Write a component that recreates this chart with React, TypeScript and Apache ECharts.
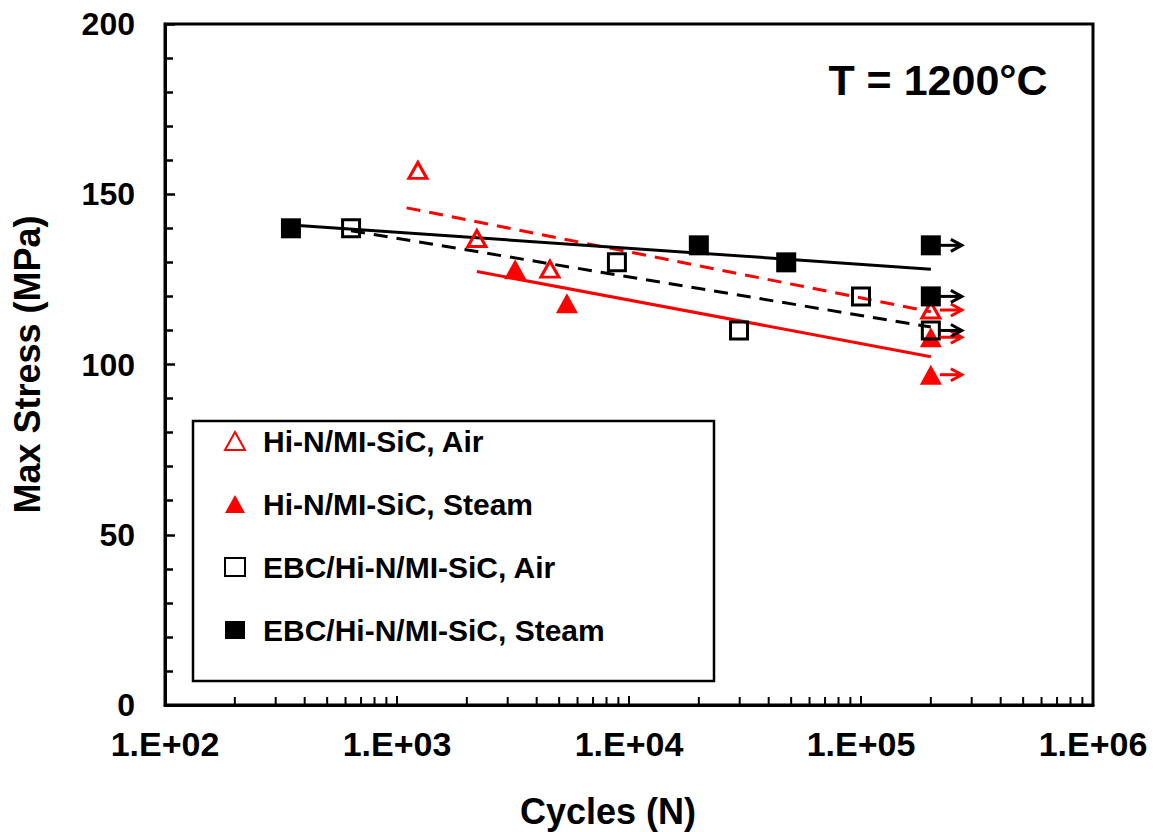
import React, { useEffect, useRef } from "react";
import * as echarts from "echarts";

const FONT = '"Liberation Sans", Arial, Helvetica, sans-serif';
const RED = "#ff0000";
const BLACK = "#000000";

// ---- data ----
const hiAirCycles = [1230, 2210, 4560, 200000];
const hiAirStress = [157, 137, 128, 116];
const hiAirRunout = [false, false, false, true];

const hiSteamCycles = [3230, 5400, 200000, 200000];
const hiSteamStress = [128, 118, 108, 97];
const hiSteamRunout = [false, false, true, true];

const ebcAirCycles = [634, 8870, 29800, 100000, 200000];
const ebcAirStress = [140, 130, 110, 120, 110];
const ebcAirRunout = [false, false, false, false, true];

const ebcSteamCycles = [349, 20000, 47600, 200000, 200000];
const ebcSteamStress = [140, 135, 130, 135, 120];
const ebcSteamRunout = [false, false, false, true, true];

// trend lines (end points)
const hiAirFitCycles = [1100, 200000];
const hiAirFitStress = [146, 115.5];
const hiSteamFitCycles = [2210, 200000];
const hiSteamFitStress = [127.3, 102.3];
const ebcAirFitCycles = [634, 200000];
const ebcAirFitStress = [139.3, 111];
const ebcSteamFitCycles = [349, 200000];
const ebcSteamFitStress = [141, 128];

const seriesNames = [
  "Hi-N/MI-SiC, Air",
  "Hi-N/MI-SiC, Steam",
  "EBC/Hi-N/MI-SiC, Air",
  "EBC/Hi-N/MI-SiC, Steam",
];
const xTickLabels = ["1.E+02", "1.E+03", "1.E+04", "1.E+05", "1.E+06"];
const xDecades = [100, 1000, 10000, 100000];
const xMinorMultipliers = [2, 3, 4, 5, 6, 7, 8, 9];
const titleText = "T = 1200°C";

const pairs = (xs: number[], ys: number[]) => xs.map((x, i) => [x, ys[i]]);
const runouts = (xs: number[], ys: number[], flags: boolean[], c: number) =>
  xs.map((x, i) => (flags[i] ? [x, ys[i], c] : null)).filter(Boolean) as number[][];

export default function App() {
  const ref = useRef<HTMLDivElement>(null);

  useEffect(() => {
    if (!ref.current) return;
    const chart = echarts.init(ref.current, undefined, { renderer: "svg" });

    const minorTicks: number[][] = [];
    xDecades.forEach((d) => xMinorMultipliers.forEach((m) => minorTicks.push([d * m, 0])));

    const arrows = [
      ...runouts(hiAirCycles, hiAirStress, hiAirRunout, 0),
      ...runouts(hiSteamCycles, hiSteamStress, hiSteamRunout, 0),
      ...runouts(ebcAirCycles, ebcAirStress, ebcAirRunout, 1),
      ...runouts(ebcSteamCycles, ebcSteamStress, ebcSteamRunout, 1),
    ];

    const fitLine = (xs: number[], ys: number[], color: string, dashed: boolean) => ({
      type: "line",
      data: pairs(xs, ys),
      symbol: "none",
      silent: true,
      lineStyle: { color, width: 3, type: dashed ? [14, 9] : "solid" },
      z: 2,
    });

    chart.setOption({
      animation: false,
      textStyle: { fontFamily: FONT },
      grid: {
        left: 165,
        right: 66,
        top: 24,
        bottom: 127,
        outerBoundsMode: "none",
        show: true,
        borderColor: BLACK,
        borderWidth: 3,
      },
      xAxis: {
        type: "log",
        logBase: 10,
        min: 100,
        max: 1000000,
        name: "Cycles (N)",
        nameLocation: "middle",
        nameGap: 82,
        nameTextStyle: {
          fontSize: 36,
          fontWeight: "bold",
          color: BLACK,
          fontFamily: FONT,
          padding: [6, 42, 0, 0],
        },
        axisLine: { lineStyle: { color: BLACK, width: 3 } },
        axisTick: { inside: true, length: 9, lineStyle: { color: BLACK, width: 2 } },
        axisLabel: {
          fontSize: 34,
          fontWeight: "bold",
          color: BLACK,
          fontFamily: FONT,
          margin: 22,
          formatter: (v: number) => xTickLabels[Math.round(Math.log10(v)) - 2] ?? "",
        },
        splitLine: { show: false },
      },
      yAxis: {
        type: "value",
        min: 0,
        max: 200,
        interval: 50,
        name: "Max Stress (MPa)",
        nameLocation: "middle",
        nameGap: 120,
        nameRotate: 90,
        nameTextStyle: { fontSize: 36, fontWeight: "bold", color: BLACK, fontFamily: FONT },
        axisLine: { show: true, lineStyle: { color: BLACK, width: 3 } },
        axisTick: { show: true, inside: true, length: 10, lineStyle: { color: BLACK, width: 2.5 } },
        minorTick: { show: true, splitNumber: 5, length: 8, lineStyle: { color: BLACK, width: 2.5 } },
        axisLabel: { fontSize: 32, fontWeight: "bold", color: BLACK, fontFamily: FONT, margin: 30 },
        splitLine: { show: false },
      },
      legend: {
        orient: "vertical",
        left: 219,
        top: 421,
        itemWidth: 20,
        itemHeight: 18,
        itemGap: 33,
        selectedMode: false,
        textStyle: {
          fontSize: 30,
          fontWeight: "bold",
          color: BLACK,
          fontFamily: FONT,
          lineHeight: 30,
          padding: [0, 0, 0, 13],
        },
        data: seriesNames,
      },
      graphic: [
        {
          type: "rect",
          shape: { x: 193, y: 421, width: 521, height: 260 },
          style: { fill: "none", stroke: BLACK, lineWidth: 2.5 },
          z: 1,
        },
        {
          type: "text",
          x: 938,
          y: 80,
          style: {
            text: titleText,
            fontSize: 43,
            fontWeight: "bold",
            fontFamily: FONT,
            fill: BLACK,
            textAlign: "center",
            textVerticalAlign: "middle",
          },
        },
      ],
      series: [
        {
          type: "custom",
          silent: true,
          clip: false,
          data: minorTicks,
          renderItem: (params: any, api: any) => {
            const p = api.coord([api.value(0), 0]);
            return {
              type: "line",
              shape: { x1: p[0], y1: p[1], x2: p[0], y2: p[1] - 8 },
              style: { stroke: BLACK, lineWidth: 2 },
            };
          },
          z: 3,
        },
        fitLine(hiAirFitCycles, hiAirFitStress, RED, true),
        fitLine(hiSteamFitCycles, hiSteamFitStress, RED, false),
        fitLine(ebcAirFitCycles, ebcAirFitStress, BLACK, true),
        fitLine(ebcSteamFitCycles, ebcSteamFitStress, BLACK, false),
        {
          name: seriesNames[0],
          type: "scatter",
          symbol: "triangle",
          symbolSize: [18, 16],
          data: pairs(hiAirCycles, hiAirStress),
          itemStyle: { color: "rgba(255,255,255,0)", borderColor: RED, borderWidth: 3, opacity: 1 },
          z: 4,
        },
        {
          name: seriesNames[1],
          type: "scatter",
          symbol: "triangle",
          symbolSize: [22, 20],
          data: pairs(hiSteamCycles, hiSteamStress),
          itemStyle: { color: RED, opacity: 1 },
          z: 4,
        },
        {
          name: seriesNames[2],
          type: "scatter",
          symbol: "rect",
          symbolSize: 17,
          data: pairs(ebcAirCycles, ebcAirStress),
          itemStyle: { color: "rgba(255,255,255,0)", borderColor: BLACK, borderWidth: 3, opacity: 1 },
          z: 5,
        },
        {
          name: seriesNames[3],
          type: "scatter",
          symbol: "rect",
          symbolSize: 20,
          data: pairs(ebcSteamCycles, ebcSteamStress),
          itemStyle: { color: BLACK, opacity: 1 },
          z: 5,
        },
        {
          type: "custom",
          silent: true,
          clip: false,
          data: arrows,
          renderItem: (params: any, api: any) => {
            const p = api.coord([api.value(0), api.value(1)]);
            const c = api.value(2) === 0 ? RED : BLACK;
            return {
              type: "group",
              children: [
                {
                  type: "line",
                  shape: { x1: p[0] + 9, y1: p[1], x2: p[0] + 31, y2: p[1] },
                  style: { stroke: c, lineWidth: 3 },
                },
                {
                  type: "polyline",
                  shape: { points: [[p[0] + 20, p[1] - 6], [p[0] + 31, p[1]], [p[0] + 20, p[1] + 6]] },
                  style: { stroke: c, lineWidth: 3, fill: "none" },
                },
              ],
            };
          },
          z: 6,
        },
      ],
    });

    return () => chart.dispose();
  }, []);

  return (
    <div
      ref={ref}
      style={{ position: "fixed", left: 0, top: 0, width: 1159, height: 832, background: "#fff" }}
    />
  );
}
